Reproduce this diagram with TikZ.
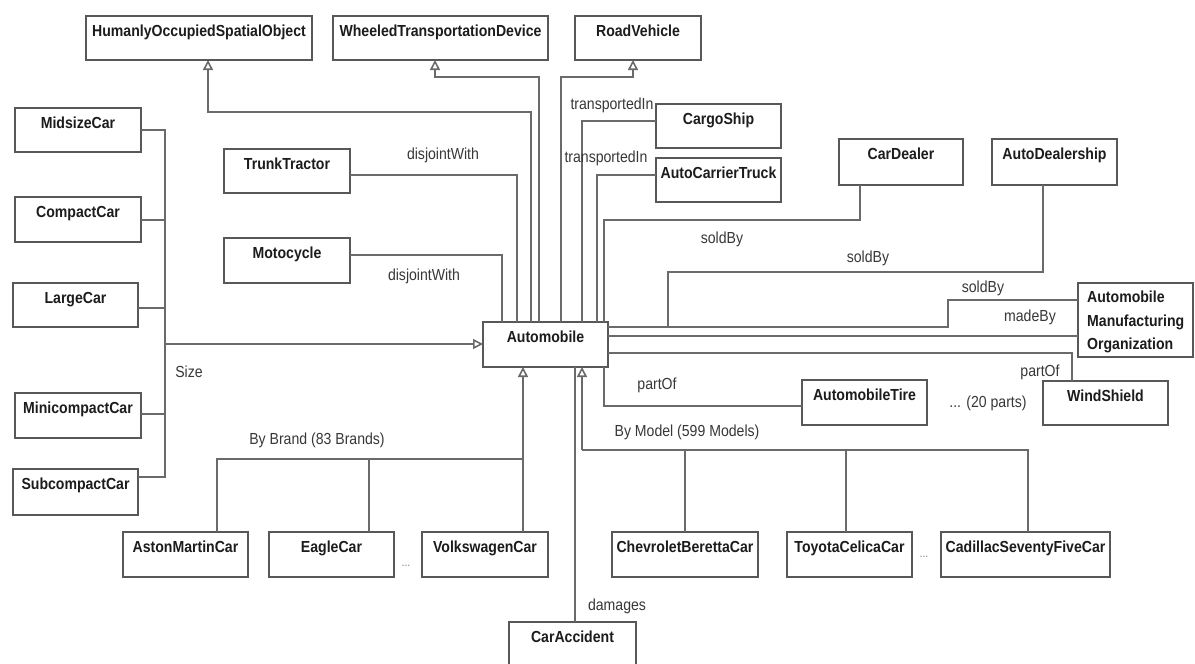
\documentclass[tikz,border=0pt]{standalone}
\usepackage{fontspec}
\setmainfont{Liberation Sans}[FakeStretch=0.88]
\usetikzlibrary{arrows.meta,calc}

\definecolor{edgegray}{HTML}{6A6A6A}
\definecolor{boxgray}{HTML}{585858}
\definecolor{ink}{HTML}{1C1C1C}
\definecolor{labelink}{HTML}{383838}

\tikzset{
  cls/.style={draw=boxgray, line width=1.8pt, fill=white, inner xsep=0pt,
    inner ysep=0pt, outer sep=0pt, text height=20pt,
    font=\fontsize{16}{19}\selectfont\bfseries, text=ink},
  conn/.style={draw=edgegray, line width=1.6pt, line join=miter},
  gen/.style={conn, -{Triangle[open, length=10pt, width=10pt]}},
  rel/.style={font=\fontsize{16}{19}\selectfont, text=labelink, inner sep=0pt},
  more/.style={font=\fontsize{12}{14}\selectfont, text=gray, inner sep=0pt},
}

% class box: name, x1, y1, x2, y2, title (title set at the top of the box)
\newcommand\umlclass[6]{%
  \pgfmathsetmacro\bw{#4-#2}%
  \pgfmathsetmacro\bh{#5-#3}%
  \pgfmathsetmacro\bd{#5-#3-20}%
  \pgfmathsetmacro\bx{(#2+#4)/2}%
  \pgfmathsetmacro\by{(#3+#5)/2}%
  \node[cls, minimum width=\bw pt, minimum height=\bh pt, text depth=\bd pt]
    (#1) at (\bx,\by) {#6};%
}

\begin{document}
\begin{tikzpicture}[x=1pt, y=-1pt]
\useasboundingbox (0,0) rectangle (1195,664);
\fill[white] (0,0) rectangle (1195,664);
\clip (0,0) rectangle (1195,664);

% ---------- classes ----------
\umlclass{hoso}{86}{16}{312}{60}{HumanlyOccupiedSpatialObject}
\umlclass{wtd}{333}{16}{548}{60}{WheeledTransportationDevice}
\umlclass{rv}{575}{16}{701}{60}{RoadVehicle}

\umlclass{mid}{15}{108}{141}{152}{MidsizeCar}
\umlclass{compact}{15}{197}{141}{242}{CompactCar}
\umlclass{large}{13}{283}{138}{327}{LargeCar}
\umlclass{mini}{15}{393}{141}{438}{MinicompactCar}
\umlclass{sub}{13}{469}{138}{515}{SubcompactCar}

\umlclass{trunk}{224}{149}{350}{193}{TrunkTractor}
\umlclass{moto}{224}{238}{350}{283}{Motocycle}

\umlclass{auto}{483}{322}{608}{367}{Automobile}

\umlclass{cargo}{656}{104}{781}{148}{CargoShip}
\umlclass{act}{656}{158}{781}{202}{AutoCarrierTruck}
\umlclass{dealer}{839}{139}{963}{185}{CarDealer}
\umlclass{ads}{992}{139}{1117}{185}{AutoDealership}

\umlclass{amo}{1078}{283}{1193}{357}{}
\node[anchor=north west, align=left, inner sep=0pt, text=ink,
  font=\fontsize{16}{23.5}\selectfont\bfseries]
  (amoText) at (1087,291) {Automobile\\Manufacturing\\Organization};

\umlclass{tire}{802}{380}{927}{425}{AutomobileTire}
\umlclass{ws}{1043}{381}{1168}{425}{WindShield}

\umlclass{aston}{123}{532}{248}{577}{AstonMartinCar}
\umlclass{eagle}{269}{532}{394}{577}{EagleCar}
\umlclass{vw}{422}{532}{548}{577}{VolkswagenCar}
\umlclass{chev}{612}{532}{758}{577}{ChevroletBerettaCar}
\umlclass{toyota}{787}{532}{912}{577}{ToyotaCelicaCar}
\umlclass{cadillac}{941}{532}{1110}{577}{CadillacSeventyFiveCar}

\umlclass{acc}{509}{622}{636}{668}{CarAccident}

% ---------- junction points ----------
\coordinate (sizebus) at (165,344);
\coordinate (brandbus) at (523,459);
\coordinate (modelbus) at (582,450);

% ---------- generalisations upward ----------
\draw[gen] ([xshift=48pt]auto.north west) -- ++(0,-210) -| ([xshift=122pt]hoso.south west);
\draw[gen] ([xshift=56pt]auto.north west) -- ++(0,-245) -| ([xshift=102pt]wtd.south west);
\draw[gen] ([xshift=78pt]auto.north west) -- ++(0,-245) -| ([xshift=58pt]rv.south west);

% ---------- disjointWith ----------
\draw[conn] ([yshift=-26pt]trunk.north east) -| ([xshift=34pt]auto.north west);
\draw[conn] ([yshift=-17pt]moto.north east) -| ([xshift=19pt]auto.north west);

% ---------- transportedIn ----------
\draw[conn] ([yshift=-17pt]cargo.north west) -| ([xshift=99pt]auto.north west);
\draw[conn] ([yshift=-17pt]act.north west) -| ([xshift=114pt]auto.north west);

% ---------- soldBy / madeBy ----------
\draw[conn] ([xshift=21pt]dealer.south west) -- ++(0,35) -| ([xshift=121pt]auto.north west);
\draw[conn] ([xshift=51pt]ads.south west) -- ++(0,87) -- ++(-375,0) |- ([yshift=-5pt]auto.north east);
\draw[conn] ([yshift=-17pt]amo.north west) -- ++(-130,0) |- ([yshift=-5pt]auto.north east);
\draw[conn] ([yshift=-53pt]amo.north west) -- ([yshift=-14pt]auto.north east);

% ---------- partOf ----------
\draw[conn] ([yshift=-31pt]auto.north east) -| ([xshift=29pt]ws.north west);
\draw[conn] ([xshift=121pt]auto.south west) |- ([yshift=-26pt]tire.north west);

% ---------- size partition ----------
\draw[conn] ([yshift=-22pt]mid.north east) -| (sizebus);
\draw[conn] ([yshift=-23pt]compact.north east) -| (sizebus);
\draw[conn] ([yshift=-25pt]large.north east) -| (sizebus);
\draw[conn] ([yshift=-21pt]mini.north east) -| (sizebus);
\draw[conn] ([yshift=-8pt]sub.north east) -| (sizebus);
\draw[gen] (sizebus) -- ([yshift=-22pt]auto.north west);

% ---------- brand partition ----------
\draw[conn] ([xshift=94pt]aston.north west) |- (brandbus);
\draw[conn] ([xshift=100pt]eagle.north west) |- (brandbus);
\draw[conn] ([xshift=101pt]vw.north west) |- (brandbus);
\draw[gen] (brandbus) -- ([xshift=40pt]auto.south west);

% ---------- model partition ----------
\draw[conn] ([xshift=73pt]chev.north west) |- (modelbus);
\draw[conn] ([xshift=59pt]toyota.north west) |- (modelbus);
\draw[conn] ([xshift=87pt]cadillac.north west) |- (modelbus);
\draw[gen] (modelbus) -- ([xshift=99pt]auto.south west);

% ---------- damages ----------
\draw[conn] ([xshift=92pt]auto.south west) -- ([xshift=66pt]acc.north west);

% ---------- relation labels ----------
\node[rel] (lDisA) at (443,155) {disjointWith};
\node[rel] (lDisB) at (424,276) {disjointWith};
\node[rel] (lTrA) at (612,105) {transportedIn};
\node[rel] (lTrB) at (606,158) {transportedIn};
\node[rel] (lSoldA) at (722,239) {soldBy};
\node[rel] (lSoldB) at (868,258) {soldBy};
\node[rel] (lSoldC) at (983,288) {soldBy};
\node[rel] (lMade) at (1030,317) {madeBy};
\node[rel] (lPartA) at (1040,372) {partOf};
\node[rel] (lPartB) at (657,385) {partOf};
\node[rel] (lParts) at (988,403) {... (20 parts)};
\node[rel] (lSize) at (189,372) {Size};
\node[rel] (lBrand) at (317,440) {By Brand (83 Brands)};
\node[rel] (lModel) at (687,432) {By Model (599 Models)};
\node[rel] (lDamage) at (617,606) {damages};
\node[more] (dotsA) at (406,566) {...};
\node[more] (dotsB) at (924,557) {...};
\end{tikzpicture}
\end{document}
